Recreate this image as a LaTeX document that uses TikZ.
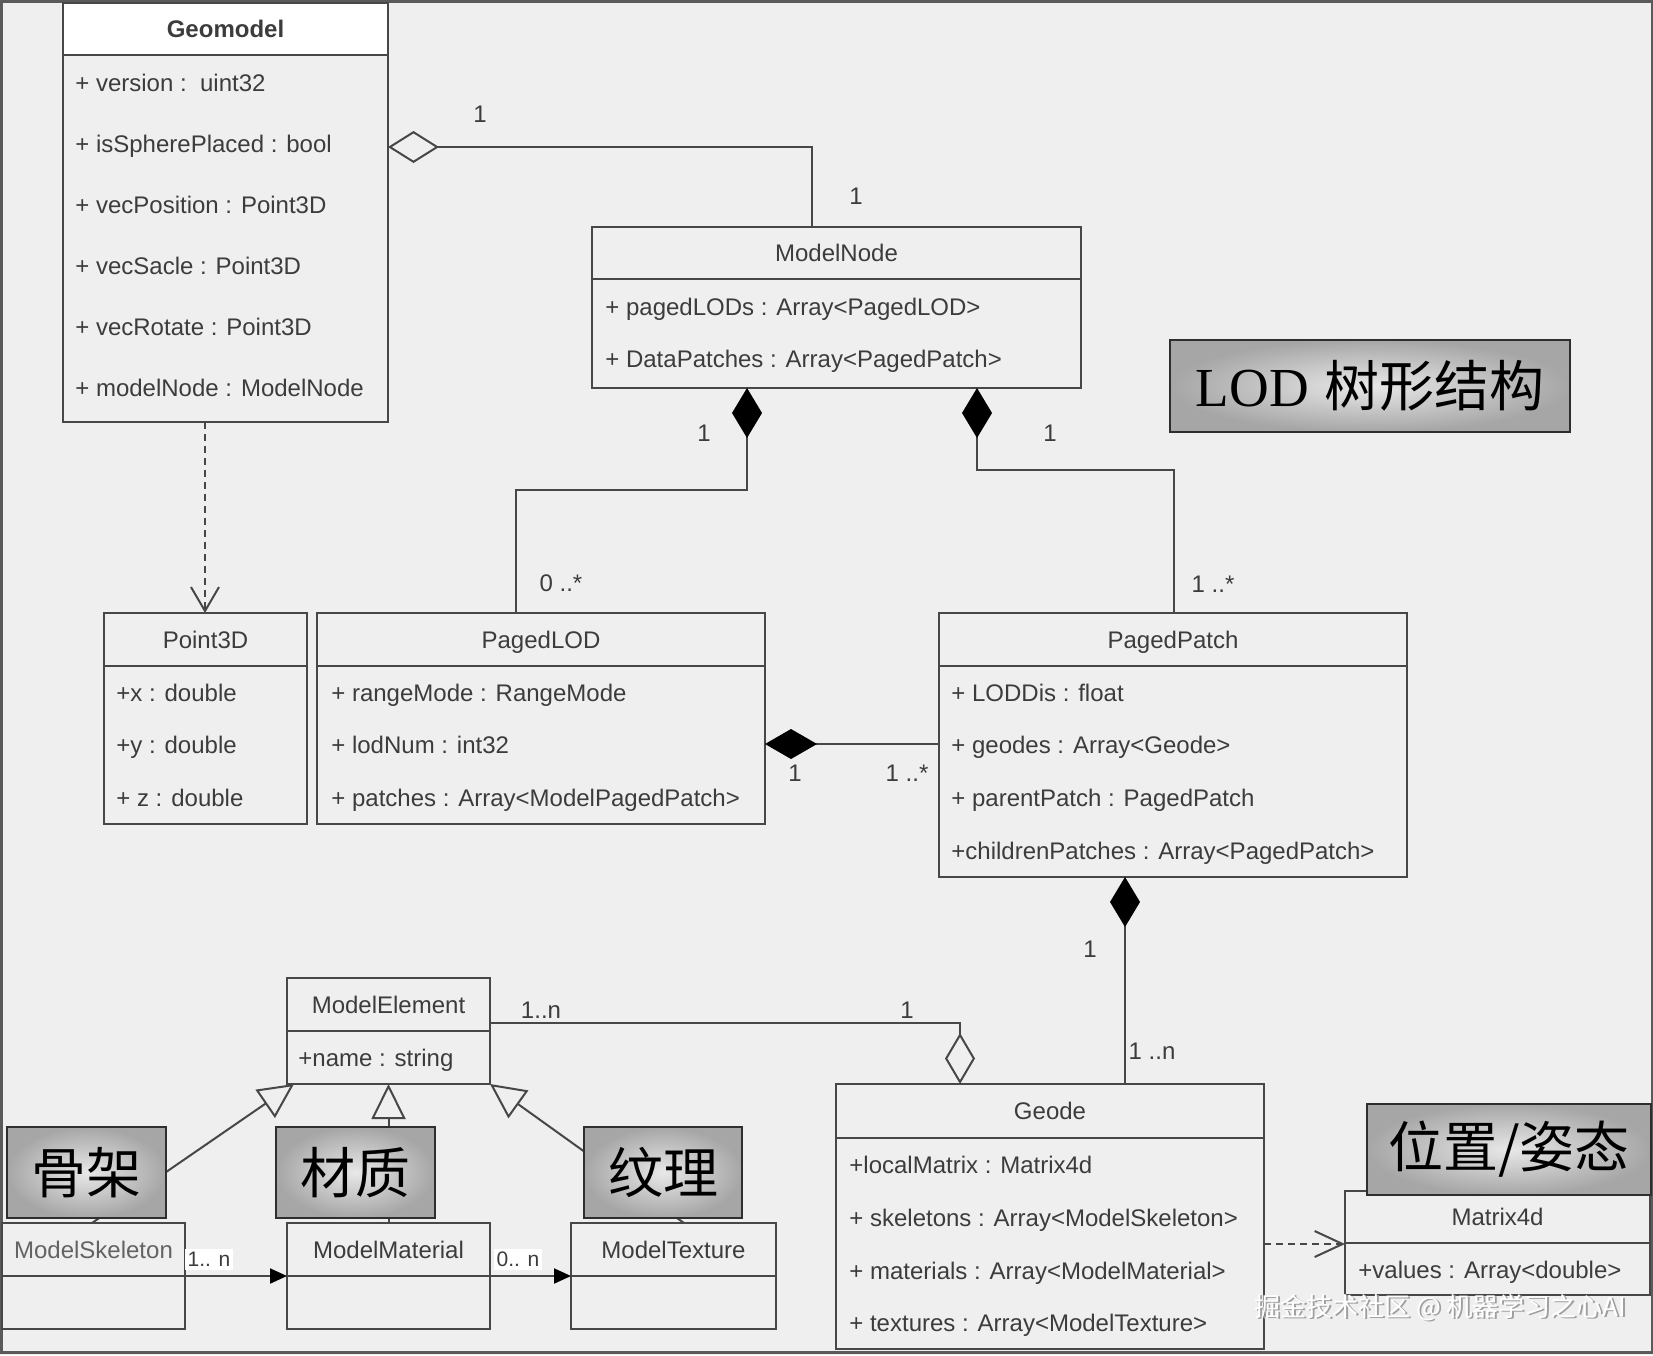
\documentclass[tikz,border=0pt]{standalone}
\usepackage{fontspec}
\setmainfont{Liberation Sans}
\newfontfamily\cjkfont{Noto Sans CJK SC}
\newfontfamily\lodserif{Liberation Serif}
\usetikzlibrary{arrows.meta,calc}
\definecolor{bgc}{HTML}{EFEFEF}
\definecolor{linec}{HTML}{474747}
\definecolor{txtc}{HTML}{3C3C3C}
\definecolor{tagin}{HTML}{E8E8E8}
\definecolor{tagout}{HTML}{A6A6A6}
\definecolor{tagline}{HTML}{2E2E2E}
\definecolor{framec}{HTML}{5A5A5A}
\newcommand{\attrfont}{\fontsize{12pt}{14pt}\selectfont}
\newcommand{\smallmult}{\fontsize{10.5pt}{12pt}\selectfont}
\newcommand{\tagfont}{\fontsize{27.5pt}{30pt}\selectfont}
\newcommand{\wmfont}{\fontsize{13pt}{15pt}\selectfont}
% name, x1, y1, x2, y2, header line y
\newcommand{\umlbox}[6]{%
  \node[classbox, minimum width={(#4-#2)*0.5pt}, minimum height={(#5-#3)*0.5pt}] (#1) at ({(#2+#4)/2},{(#3+#5)/2}) {};
  \draw[classline] (#2,#6) -- (#4,#6);
}
\begin{document}
\begin{tikzpicture}[x=0.5pt,y=-0.5pt,
  classbox/.style={draw=linec, line width=1.2pt, inner sep=0pt, outer sep=0pt, rectangle},
  classline/.style={draw=linec, line width=1.2pt},
  attr/.style={anchor=west, inner sep=0pt, text=txtc, font=\attrfont, text height=8.6pt, text depth=0pt},
  hdr/.style={inner sep=0pt, text=txtc, font=\attrfont, text height=8.6pt, text depth=0pt},
  mult/.style={inner sep=0pt, text=txtc, font=\attrfont, text height=8.6pt, text depth=0pt},
  multbg/.style={fill=white, inner sep=1.5pt, text=txtc, font=\smallmult, text height=7.5pt, text depth=0pt},
  conn/.style={draw=linec, line width=1pt},
  dep/.style={conn, dash pattern=on 3.5pt off 2.5pt},
  tagbox/.style={draw=tagline, line width=1.3pt, shade, inner color=tagin, outer color=tagout, inner sep=0pt, outer sep=0pt, text=black, font=\tagfont},
]
\useasboundingbox (0,0) rectangle (1653,1355);
\clip (0,0) rectangle (1653,1355);
\fill[bgc] (0,0) rectangle (1653,1355);
\draw[framec, line width=1.5pt] (1.5,1.5) rectangle (1652,1352);

% ---------- Geomodel
\fill[white] (63,3) rectangle (388,55);
\umlbox{geo}{63}{3}{388}{422}{55}
\node[hdr, font=\attrfont\bfseries] (geoH) at (225.5,29) {Geomodel};
\node[attr] (geoA1) at (75,83) {+ version :\ \ uint32};
\node[attr] (geoA2) at (75,144) {+ isSpherePlaced : bool};
\node[attr] (geoA3) at (75,205) {+ vecPosition : Point3D};
\node[attr] (geoA4) at (75,266) {+ vecSacle : Point3D};
\node[attr] (geoA5) at (75,327) {+ vecRotate : Point3D};
\node[attr] (geoA6) at (75,388) {+ modelNode : ModelNode};

% ---------- ModelNode
\umlbox{mnode}{592}{227}{1081}{388}{279}
\node[hdr] (mnodeH) at (836.5,253) {ModelNode};
\node[attr] (mnodeA1) at (605,307) {+ pagedLODs : Array<PagedLOD>};
\node[attr] (mnodeA2) at (605,359) {+ DataPatches : Array<PagedPatch>};

% ---------- Point3D
\umlbox{pt}{104}{613}{307}{824}{666}
\node[hdr] (ptH) at (205.5,639.5) {Point3D};
\node[attr] (ptA1) at (116,693) {+x : double};
\node[attr] (ptA2) at (116,745) {+y : double};
\node[attr] (ptA3) at (116,798) {+ z : double};

% ---------- PagedLOD
\umlbox{plod}{317}{613}{765}{824}{666}
\node[hdr] (plodH) at (541,639.5) {PagedLOD};
\node[attr] (plodA1) at (331,693) {+ rangeMode : RangeMode};
\node[attr] (plodA2) at (331,745) {+ lodNum : int32};
\node[attr] (plodA3) at (331,798) {+ patches : Array<ModelPagedPatch>};

% ---------- PagedPatch
\umlbox{ppatch}{939}{613}{1407}{877}{666}
\node[hdr] (ppatchH) at (1173,639.5) {PagedPatch};
\node[attr] (ppatchA1) at (951,693) {+ LODDis : float};
\node[attr] (ppatchA2) at (951,745) {+ geodes : Array<Geode>};
\node[attr] (ppatchA3) at (951,798) {+ parentPatch : PagedPatch};
\node[attr] (ppatchA4) at (951,851) {+childrenPatches : Array<PagedPatch>};

% ---------- ModelElement
\umlbox{melem}{287}{978}{490}{1084}{1031}
\node[hdr] (melemH) at (388.5,1004.5) {ModelElement};
\node[attr] (melemA1) at (298,1058) {+name : string};

% ---------- Geode
\umlbox{geode}{836}{1084}{1264}{1349}{1138}
\node[hdr] (geodeH) at (1050,1111) {Geode};
\node[attr] (geodeA1) at (849,1165) {+localMatrix : Matrix4d};
\node[attr] (geodeA2) at (849,1218) {+ skeletons : Array<ModelSkeleton>};
\node[attr] (geodeA3) at (849,1271) {+ materials : Array<ModelMaterial>};
\node[attr] (geodeA4) at (849,1323) {+ textures : Array<ModelTexture>};

% ---------- Matrix4d
\umlbox{mtx}{1345}{1191}{1650}{1295}{1243}
\node[hdr] (mtxH) at (1497.5,1217) {Matrix4d};
\node[attr] (mtxA1) at (1358,1270) {+values : Array<double>};

% ---------- bottom classes
\umlbox{mskel}{2}{1223}{185}{1329}{1276}
\node[hdr, text=txtc!80] (mskelH) at (93.5,1250) {ModelSkeleton};
\umlbox{mmat}{287}{1223}{490}{1329}{1276}
\node[hdr] (mmatH) at (388.5,1250) {ModelMaterial};
\umlbox{mtex}{571}{1223}{776}{1329}{1276}
\node[hdr] (mtexH) at (673.5,1250) {ModelTexture};

% ---------- connectors
\draw[conn, {Diamond[open, length=25.5pt, width=16pt]}-] (geo.east |- 0,147) -- (812,147) -- (mnode.north -| 812,0);
\draw[conn, {Diamond[length=25pt, width=15pt, black]}-] (mnode.south -| 747,0) -- (747,490) -- (516,490) -- (plod.north -| 516,0);
\draw[conn, {Diamond[length=25pt, width=15pt, black]}-] (mnode.south -| 977,0) -- (977,470) -- (1174,470) -- (ppatch.north -| 1174,0);
\draw[dep, -{Straight Barb[length=12pt, width=14pt]}] (geo.south -| 205,0) -- (pt.north -| 205,0);
\draw[conn, {Diamond[length=26pt, width=15pt, black]}-] (plod.east |- 0,744) -- (ppatch.west |- 0,744);
\draw[conn, {Diamond[length=25pt, width=15pt, black]}-] (ppatch.south -| 1125,0) -- (geode.north -| 1125,0);
\draw[conn, -{Diamond[open, length=25.5pt, width=15pt]}] (melem.east |- 0,1023) -- (960,1023) -- (geode.north -| 960,0);
\draw[dep, -{Straight Barb[length=14pt, width=13pt]}] (geode.east |- 0,1244) -- (mtx.west |- 0,1244);
\draw[conn, -{Triangle[open, length=17.5pt, width=17pt]}] (mskel.north -| 92,0) -- (melem.south -| 294,0);
\draw[conn, -{Triangle[open, length=17.5pt, width=17pt]}] (mmat.north) -- (melem.south);
\draw[conn, -{Triangle[open, length=17.5pt, width=17pt]}] (mtex.north -| 684,0) -- (melem.south -| 490,0);
\draw[conn, -{Triangle[length=8.5pt, width=7.5pt, black]}] (mskel.east |- 0,1276) -- (mmat.west |- 0,1276);
\draw[conn, -{Triangle[length=8.5pt, width=7.5pt, black]}] (mmat.east |- 0,1276) -- (mtex.west |- 0,1276);

% ---------- multiplicities
\node[mult] (m1) at (480,114) {1};
\node[mult] (m2) at (856,196) {1};
\node[mult] (m3) at (704,433) {1};
\node[mult] (m4) at (561,583) {0 ..*};
\node[mult] (m5) at (1050,433) {1};
\node[mult] (m6) at (1213,584) {1 ..*};
\node[mult] (m7) at (795,773) {1};
\node[mult] (m8) at (907,773) {1 ..*};
\node[mult] (m9) at (1090,949) {1};
\node[mult] (m10) at (1152,1051) {1 ..n};
\node[mult] (m11) at (541,1010) {1..n};
\node[mult] (m12) at (907,1010) {1};
\node[multbg] (m13) at (209,1259) {1.. n};
\node[multbg] (m14) at (518,1259) {0.. n};

% ---------- tag boxes
\node[tagbox, minimum width=200pt, minimum height=46pt] (tagLOD) at (1370,386) {{\lodserif LOD} {\cjkfont 树形结构}};
\node[tagbox, minimum width=142pt, minimum height=45.5pt] (tagPos) at (1509,1149.5) {\cjkfont 位置/姿态};
\node[tagbox, minimum width=79.5pt, minimum height=45.5pt] (tagSkel) at (86.5,1172.5) {\cjkfont 骨架};
\node[tagbox, minimum width=79.5pt, minimum height=45.5pt] (tagMat) at (355.5,1172.5) {\cjkfont 材质};
\node[tagbox, minimum width=79pt, minimum height=45.5pt] (tagTex) at (663,1172.5) {\cjkfont 纹理};

% ---------- watermark
\node[inner sep=0pt, font=\wmfont\cjkfont, text=gray!75] (wmS) at (1442,1309) {掘金技术社区 @ 机器学习之心AI};
\node[inner sep=0pt, font=\wmfont\cjkfont, text=white] (wm) at (1440.5,1307.5) {掘金技术社区 @ 机器学习之心AI};
\end{tikzpicture}
\end{document}
